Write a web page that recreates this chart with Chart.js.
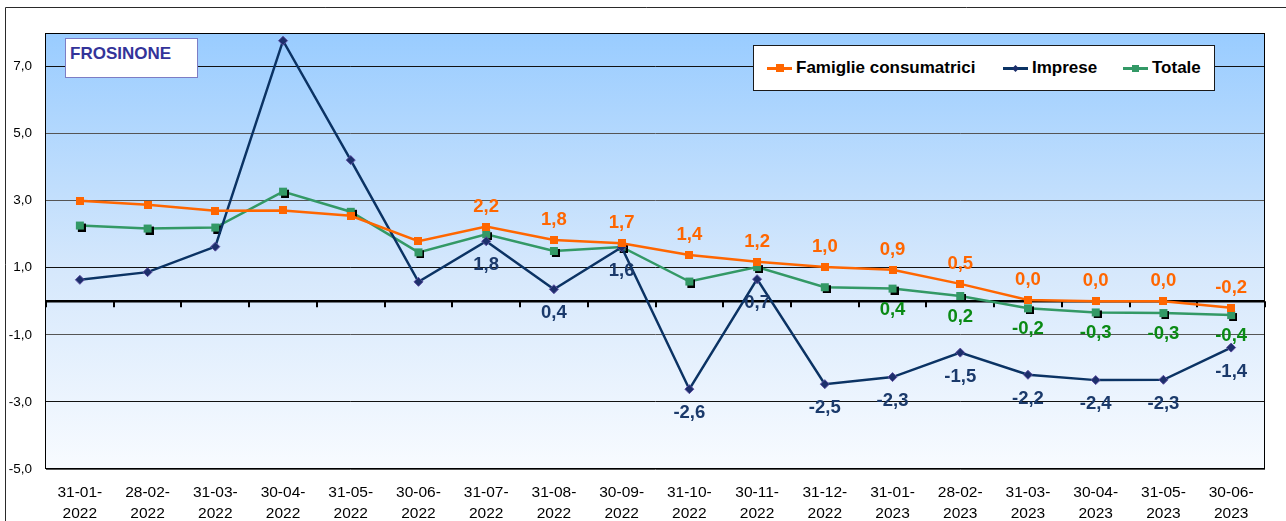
<!DOCTYPE html>
<html>
<head>
<meta charset="utf-8">
<title>Frosinone</title>
<script src="https://cdn.jsdelivr.net/npm/chart.js@4.4.1/dist/chart.umd.min.js"></script>
<style>
  html, body { margin: 0; padding: 0; background: #fff; }
  #wrap { position: relative; width: 1286px; height: 521px; overflow: hidden;
          font-family: "Liberation Sans", Arial, sans-serif; }
  #chart { position: absolute; left: 0; top: 0; }
  #place { position: absolute; left: 65px; top: 38px; width: 133px; height: 40px;
           box-sizing: border-box; border: 1.5px solid #7d7dc4; background: #fff;
           color: #333399; font-weight: bold; font-size: 17px; line-height: 20px;
           padding: 5px 0 0 4px; }
  #legend { position: absolute; left: 753px; top: 45px; width: 462px; height: 46px;
            box-sizing: border-box; border: 1px solid #1a1a1a; background: #fff; }
  .item { position: absolute; top: 0; height: 44px; display: flex; align-items: center;
          font-weight: bold; font-size: 17px; color: #000; white-space: nowrap; }
  .key { position: relative; width: 25px; height: 3px; margin-right: 4px; }
  .key i { position: absolute; left: 50%; top: 50%; display: block; }
</style>
</head>
<body>
<div id="wrap">
  <canvas id="chart" width="1286" height="521"></canvas>
  <div id="place">FROSINONE</div>
  <div id="legend">
    <div class="item" style="left:13px">
      <span class="key" style="background:#FF6600"><i style="width:8px;height:8px;margin:-4px 0 0 -4px;background:#FF6600"></i></span>Famiglie consumatrici
    </div>
    <div class="item" style="left:249px">
      <span class="key" style="background:#0B3364"><i style="width:5px;height:5px;margin:-2.5px 0 0 -2.5px;background:#1c2f6b;transform:rotate(45deg)"></i></span>Imprese
    </div>
    <div class="item" style="left:369px">
      <span class="key" style="background:#339966"><i style="width:7px;height:7px;margin:-3.5px 0 0 -3.5px;background:#339966"></i></span>Totale
    </div>
  </div>
</div>
<script>
// Month-end reference dates
const categories = [
  '31-01-2022', '28-02-2022', '31-03-2022', '30-04-2022', '31-05-2022', '30-06-2022',
  '31-07-2022', '31-08-2022', '30-09-2022', '31-10-2022', '30-11-2022', '31-12-2022',
  '31-01-2023', '28-02-2023', '31-03-2023', '30-04-2023', '31-05-2023', '30-06-2023'
];

// Year-on-year change (%)
const famiglie = [3.0, 2.88, 2.70, 2.71, 2.55, 1.79, 2.23, 1.83, 1.73, 1.38, 1.18, 1.02, 0.94, 0.52, 0.04, 0.0, 0.0, -0.19];
const imprese  = [0.64, 0.87, 1.63, 7.77, 4.21, 0.58, 1.79, 0.36, 1.61, -2.62, 0.66, -2.47, -2.26, -1.53, -2.19, -2.35, -2.34, -1.38];
const totale   = [2.26, 2.17, 2.20, 3.27, 2.67, 1.46, 2.0, 1.5, 1.62, 0.59, 1.02, 0.42, 0.38, 0.16, -0.21, -0.33, -0.35, -0.41];

// Value axis ticks
const yTicks = [-5, -3, -1, 1, 3, 5, 7];

// First point whose value is printed, per series
const famiglieLabelFrom = 6;
const impreseLabelFrom = 6;
const totaleLabelFrom = 12;

const FONT = '"Liberation Sans", Arial, sans-serif';
const fmt = v => v.toFixed(1).replace('.', ',');

// Two-line date labels: "31-01-" / "2022"
const xLabels = categories.map(d => [d.slice(0, 6), d.slice(6)]);

// Square marker bitmaps (optionally with a drop shadow)
function squareMarker(fill, size, shadow) {
  const pad = shadow ? 2 : 0;
  const c = document.createElement('canvas');
  c.width = c.height = size + pad * 2;
  const g = c.getContext('2d');
  if (shadow) {
    g.fillStyle = '#000';
    g.fillRect(pad * 2, pad * 2, size, size);
  }
  g.fillStyle = fill;
  g.fillRect(pad, pad, size, size);
  return c;
}
const orangeMarker = squareMarker('#FF6600', 8, false);
const greenMarker = squareMarker('#339966', 8, true);

// Gradient plot background and outer frame
const backdrop = {
  id: 'backdrop',
  beforeDraw(chart) {
    const { ctx, chartArea: a, width, height } = chart;
    ctx.save();
    ctx.fillStyle = '#fff';
    ctx.fillRect(0, 0, width, height);
    ctx.strokeStyle = '#2a2a2a';
    ctx.lineWidth = 1;
    ctx.beginPath();
    ctx.moveTo(5.5, height + 2);
    ctx.lineTo(5.5, 7.5);
    ctx.lineTo(width + 2, 7.5);
    ctx.stroke();
    const grad = ctx.createLinearGradient(0, a.top, 0, a.bottom);
    grad.addColorStop(0, '#99CCFF');
    grad.addColorStop(0.55, '#D6E8FC');
    grad.addColorStop(1, '#F8FBFF');
    ctx.fillStyle = grad;
    ctx.fillRect(a.left, a.top, a.right - a.left, a.bottom - a.top);
    ctx.restore();
  }
};

// Bold zero line with category tick marks, plus plot frame
const zeroAxis = {
  id: 'zeroAxis',
  beforeDatasetsDraw(chart) {
    const { ctx, chartArea: a, scales: { y } } = chart;
    const y0 = y.getPixelForValue(0);
    const n = chart.data.labels.length;
    const w = (a.right - a.left) / n;
    ctx.save();
    ctx.strokeStyle = '#000';
    ctx.lineWidth = 1;
    ctx.strokeRect(Math.round(a.left) - 0.5, Math.round(a.top) + 0.5,
                   Math.round(a.right - a.left), Math.round(a.bottom - a.top) - 1);
    ctx.lineWidth = 2.5;
    ctx.beginPath();
    ctx.moveTo(a.left, y0);
    ctx.lineTo(a.right, y0);
    ctx.stroke();
    ctx.lineWidth = 2;
    ctx.beginPath();
    for (let i = 0; i <= n; i++) {
      const xx = Math.round(a.left + i * w);
      ctx.moveTo(xx, y0);
      ctx.lineTo(xx, y0 + 6);
    }
    ctx.stroke();
    ctx.restore();
  }
};

// Printed values next to the points
const valueLabels = {
  id: 'valueLabels',
  afterDatasetsDraw(chart) {
    const { ctx } = chart;
    ctx.save();
    ctx.font = 'bold 18.5px ' + FONT;
    ctx.textAlign = 'center';
    ctx.textBaseline = 'middle';
    chart.data.datasets.forEach((ds, di) => {
      const meta = chart.getDatasetMeta(di);
      const cfg = ds.valueLabel;
      meta.data.forEach((pt, i) => {
        if (i < cfg.from) return;
        ctx.fillStyle = cfg.color;
        ctx.fillText(fmt(ds.data[i]), pt.x, pt.y + cfg.dy);
      });
    });
    ctx.restore();
  }
};

const darkGrid = [-3, 1, 7];

new Chart(document.getElementById('chart'), {
  type: 'line',
  data: {
    labels: xLabels,
    datasets: [
      {
        label: 'Famiglie consumatrici',
        data: famiglie,
        borderColor: '#FF6600',
        borderWidth: 2.5,
        pointStyle: orangeMarker,
        pointRadius: 4,
        tension: 0,
        valueLabel: { from: famiglieLabelFrom, color: '#FF6600', dy: -20 }
      },
      {
        label: 'Imprese',
        data: imprese,
        borderColor: '#0B3364',
        borderWidth: 2.5,
        pointStyle: 'rectRot',
        pointRadius: 4.5,
        pointBackgroundColor: '#1c2f6b',
        pointBorderColor: '#5a4c9e',
        pointBorderWidth: 1,
        tension: 0,
        valueLabel: { from: impreseLabelFrom, color: '#1B3A6B', dy: 24 }
      },
      {
        label: 'Totale',
        data: totale,
        borderColor: '#339966',
        borderWidth: 2.5,
        pointStyle: greenMarker,
        pointRadius: 4,
        tension: 0,
        valueLabel: { from: totaleLabelFrom, color: '#0A8A14', dy: 21 }
      }
    ]
  },
  options: {
    responsive: false,
    animation: false,
    events: [],
    layout: { padding: { top: 33, right: 21, left: 0, bottom: 0 } },
    plugins: { legend: { display: false }, tooltip: { enabled: false }, title: { display: false } },
    scales: {
      x: {
        type: 'category',
        offset: true,
        grid: { display: false, drawTicks: false },
        border: { display: false },
        ticks: {
          autoSkip: false,
          maxRotation: 0,
          minRotation: 0,
          color: '#000',
          padding: 14,
          font: { family: FONT, size: 15.5, lineHeight: 1.3 }
        },
        afterFit(s) { s.height = 52; }
      },
      y: {
        min: -5,
        max: 8,
        afterBuildTicks(s) { s.ticks = yTicks.map(v => ({ value: v })); },
        grid: {
          drawTicks: false,
          lineWidth: 1,
          color: c => darkGrid.includes(c.tick && c.tick.value) ? '#111' : '#555'
        },
        border: { display: false },
        ticks: {
          color: '#000',
          padding: 14,
          font: { family: FONT, size: 13.5 },
          callback: v => fmt(v)
        },
        afterFit(s) { s.width = 46; }
      }
    }
  },
  plugins: [backdrop, zeroAxis, valueLabels]
});
</script>
</body>
</html>
